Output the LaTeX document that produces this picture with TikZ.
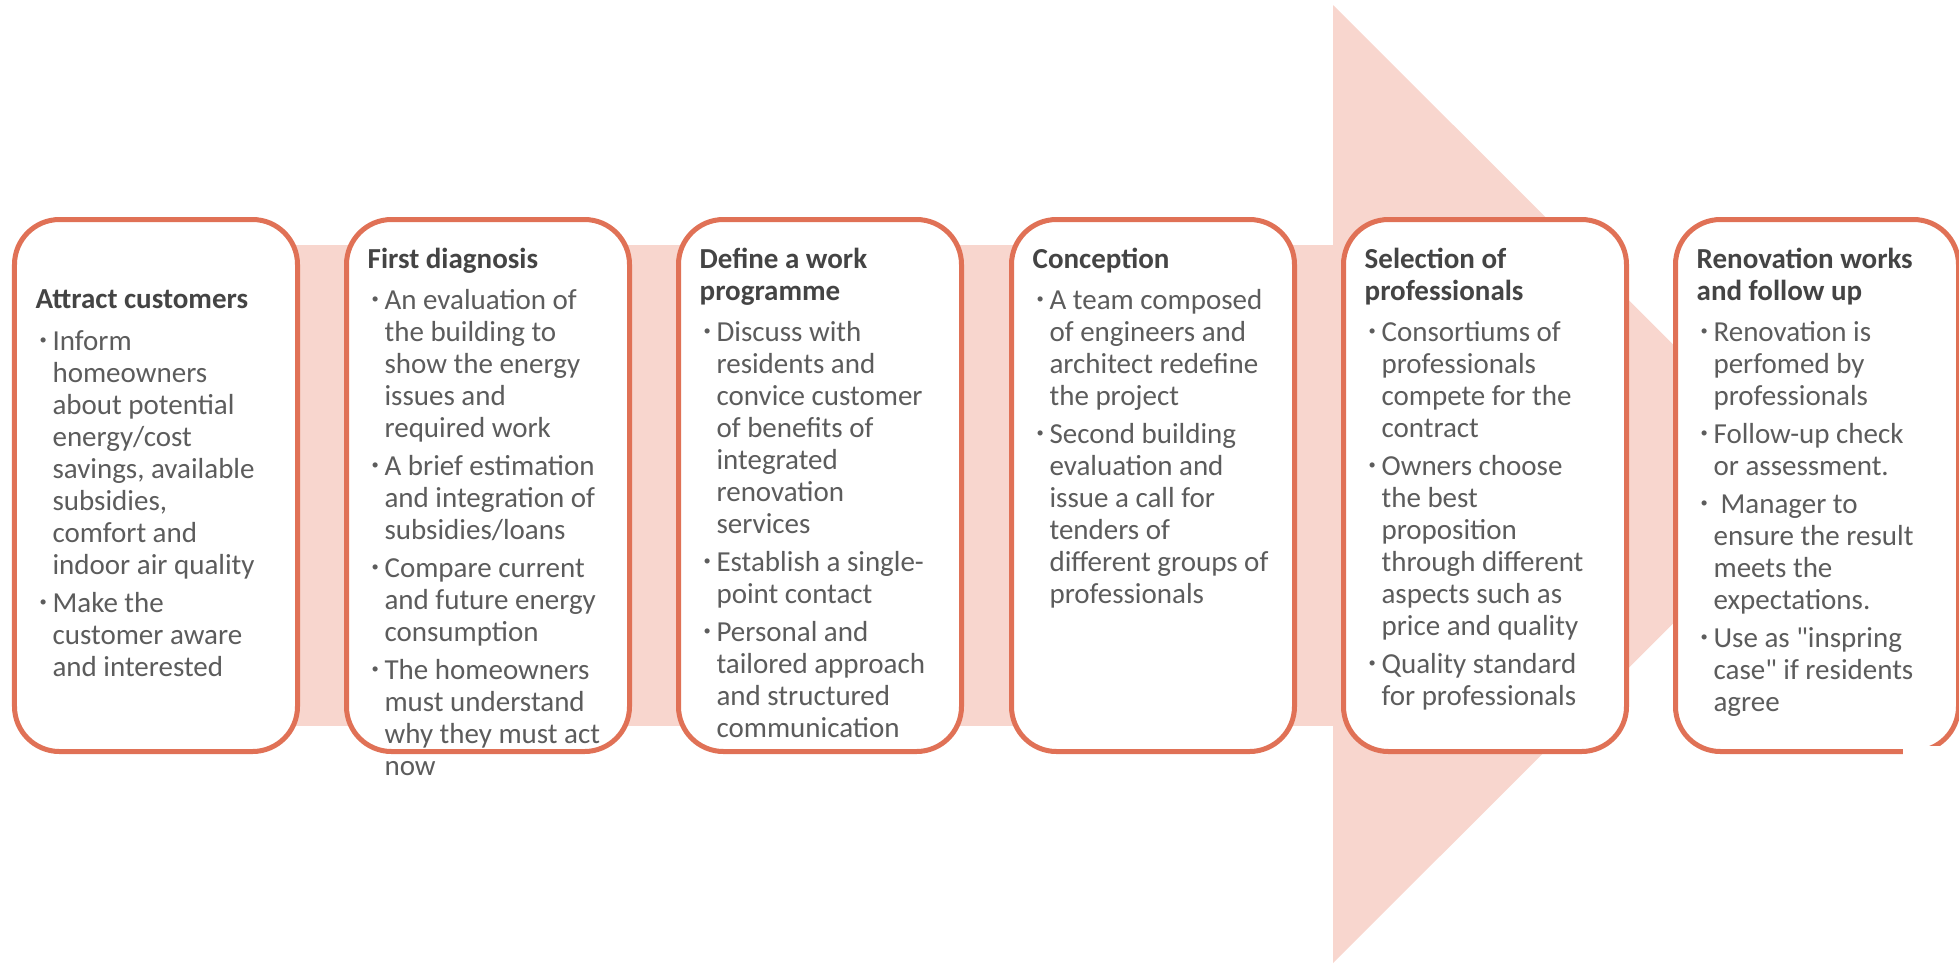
\documentclass[tikz,border=0pt]{standalone}
\usepackage{fontspec}
\setmainfont{Carlito}[Ligatures=TeXOff]
\usetikzlibrary{positioning,backgrounds}
\definecolor{stepred}{RGB}{224,113,86}
\definecolor{flowpink}{RGB}{248,214,206}
\definecolor{textgray}{RGB}{92,92,92}
\definecolor{titlegray}{RGB}{68,68,68}
\newcommand{\ttl}[1]{{\bfseries\color{titlegray}#1}}
\newcommand{\bitem}{\makebox[4.8pt][l]{\hspace{1.1pt}\raisebox{1.7pt}{\scalebox{0.5}{\textbullet}}}}
\newcommand{\bcont}{\hspace*{4.8pt}}

\begin{document}
\begin{tikzpicture}[
  x=1cm,y=1cm,
  stepbox/.style={draw=stepred,line width=0.05cm,rounded corners=0.45cm,fill=white,
                  minimum width=2.83cm,minimum height=5.32cm,inner sep=0pt},
  steptext/.style={anchor=north west,align=left,inner sep=0pt,text=textgray,
                   font=\fontsize{8.25pt}{9.1pt}\selectfont}
]
\useasboundingbox (0,0) rectangle (19.59,-9.66);
% ---------- the six steps
\node[stepbox] (attract) at (1.56,-4.855)  {};
\node[stepbox] (diag)    at (4.88,-4.855)  {};
\node[stepbox] (prog)    at (8.20,-4.855)  {};
\node[stepbox] (concept) at (11.53,-4.855) {};
\node[stepbox] (select)  at (14.85,-4.855) {};
\node[stepbox] (works)   at (18.17,-4.855) {};
% ---------- band and arrow head behind the boxes
\begin{scope}[on background layer]
  \fill[flowpink] (attract.center |- 0,-2.45) rectangle (13.33,-7.26);
  \fill[flowpink] (13.33,-0.05) -- (18.13,-4.84) -- (13.33,-9.63) -- cycle;
\end{scope}
\fill[white] (19.03,-7.46) rectangle (19.59,-9.66);
% ---------- texts
\node[steptext] (attractT) at ([xshift=0.23cm,yshift=-0.72cm]attract.north west)
  {\ttl{Attract customers}\\[2.8pt]
   \bitem Inform\\
   \bcont homeowners\\
   \bcont about potential\\
   \bcont energy/cost\\
   \bcont savings, available\\
   \bcont subsidies,\\
   \bcont comfort and\\
   \bcont indoor air quality\\[1.7pt]
   \bitem Make the\\
   \bcont customer aware\\
   \bcont and interested};
\node[steptext] (diagT) at ([xshift=0.23cm,yshift=-0.30cm]diag.north west)
  {\ttl{First diagnosis}\\[2.8pt]
   \bitem An evaluation of\\
   \bcont the building to\\
   \bcont show the energy\\
   \bcont issues and\\
   \bcont required work\\[1.7pt]
   \bitem A brief estimation\\
   \bcont and integration of\\
   \bcont subsidies/loans\\[1.7pt]
   \bitem Compare current\\
   \bcont and future energy\\
   \bcont consumption\\[1.7pt]
   \bitem The homeowners\\
   \bcont must understand\\
   \bcont why they must act\\
   \bcont now};
\node[steptext] (progT) at ([xshift=0.23cm,yshift=-0.30cm]prog.north west)
  {\ttl{Define a work}\\
   \ttl{programme}\\[2.8pt]
   \bitem Discuss with\\
   \bcont residents and\\
   \bcont convice customer\\
   \bcont of benefits of\\
   \bcont integrated\\
   \bcont renovation\\
   \bcont services\\[1.7pt]
   \bitem Establish a single-\\
   \bcont point contact\\[1.7pt]
   \bitem Personal and\\
   \bcont tailored approach\\
   \bcont and structured\\
   \bcont communication};
\node[steptext] (conceptT) at ([xshift=0.23cm,yshift=-0.30cm]concept.north west)
  {\ttl{Conception}\\[2.8pt]
   \bitem A team composed\\
   \bcont of engineers and\\
   \bcont architect redefine\\
   \bcont the project\\[1.7pt]
   \bitem Second building\\
   \bcont evaluation and\\
   \bcont issue a call for\\
   \bcont tenders of\\
   \bcont different groups of\\
   \bcont professionals};
\node[steptext] (selectT) at ([xshift=0.23cm,yshift=-0.30cm]select.north west)
  {\ttl{Selection of}\\
   \ttl{professionals}\\[2.8pt]
   \bitem Consortiums of\\
   \bcont professionals\\
   \bcont compete for the\\
   \bcont contract\\[1.7pt]
   \bitem Owners choose\\
   \bcont the best\\
   \bcont proposition\\
   \bcont through different\\
   \bcont aspects such as\\
   \bcont price and quality\\[1.7pt]
   \bitem Quality standard\\
   \bcont for professionals};
\node[steptext] (worksT) at ([xshift=0.23cm,yshift=-0.30cm]works.north west)
  {\ttl{Renovation works}\\
   \ttl{and follow up}\\[2.8pt]
   \bitem Renovation is\\
   \bcont perfomed by\\
   \bcont professionals\\[1.7pt]
   \bitem Follow-up check\\
   \bcont or assessment.\\[1.7pt]
   \bitem\hspace{2pt}Manager to\\
   \bcont ensure the result\\
   \bcont meets the\\
   \bcont expectations.\\[1.7pt]
   \bitem Use as "inspring\\
   \bcont case" if residents\\
   \bcont agree};
\end{tikzpicture}
\end{document}
